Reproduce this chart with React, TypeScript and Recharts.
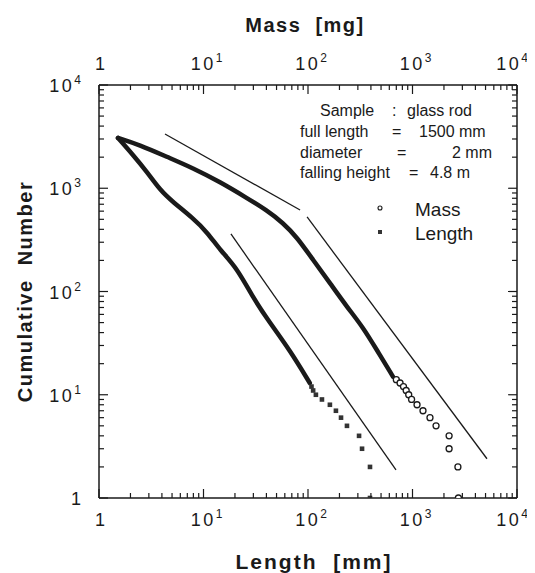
import React from 'react';
import { ScatterChart, Scatter, XAxis, YAxis, ReferenceLine } from 'recharts';

const FONT = '"Liberation Sans", Arial, Helvetica, sans-serif';
const INK = '#1a1a1a';

// axis ticks (log decades, labelled by exponent)
const decades = [1, 10, 100, 1000, 10000];
const decadeExponents = ['', '1', '2', '3', '4'];
const minorSteps = [2, 3, 4, 5, 6, 7, 8, 9];

// Mass [mg] vs cumulative number: the dense part reads as a thick curve
const massCurve = [
  [1.52, 3070], [2.47, 2620], [4.47, 2010], [7.9, 1570], [14.4, 1150],
  [26, 805], [40, 615], [58, 460], [78, 337], [112, 202],
  [162, 121], [236, 71], [336, 45], [457, 27], [650, 15],
];
const massTail = [
  [700, 14], [760, 13], [820, 12], [870, 11], [920, 10], [980, 9],
  [1105, 8], [1260, 7], [1470, 6], [1680, 5], [2240, 4], [2240, 3],
  [2720, 2], [2750, 1],
];

// Length [mm] vs cumulative number
const lengthCurve = [
  [1.52, 3070], [2.12, 2100], [2.88, 1440], [3.84, 960], [5.1, 735],
  [7.9, 515], [10.8, 377], [14.4, 252], [20.9, 169], [29.8, 87],
  [43, 50], [67, 27], [104, 13],
];
const lengthTail = [
  [108, 12], [112, 11], [119, 10], [136, 9], [162, 8], [185, 7],
  [207, 6], [236, 5], [308, 4], [329, 3], [392, 2], [392, 1],
];

// guide lines (power-law slopes)
const massGuideLow = [[4.28, 3350], [84, 615]];
const massGuideHigh = [[98, 527], [5160, 2.4]];
const lengthGuide = [[18.3, 361], [695, 1.87]];

const sampleNotes = [
  { parts: [['Sample', 312], [':', 384], ['glass rod', 399]], y: 108 },
  { parts: [['full length', 292], ['=', 384], ['1500 mm', 411]], y: 129 },
  { parts: [['diameter', 292], ['=', 389], ['2 mm', 444]], y: 150 },
  { parts: [['falling height', 292], ['=', 401], ['4.8 m', 422]], y: 170 },
];

const toPoints = (rows: number[][]) => rows.map(([x, y]) => ({ x, y }));

const ticks = decades.flatMap((d, i) =>
  i < decades.length - 1 ? [d, ...minorSteps.map((m) => m * d)] : [d]
);

type Side = 'top' | 'bottom' | 'left' | 'right';

function makeTick(side: Side, showLabel: boolean) {
  return (props: any) => {
    const { x, y, payload } = props;
    const idx = decades.indexOf(payload.value);
    const major = idx >= 0;
    const len = major ? 9 : 5;
    let x2 = x;
    let y2 = y;
    if (side === 'bottom') y2 = y - len;
    if (side === 'top') y2 = y + len;
    if (side === 'left') x2 = x + len;
    if (side === 'right') x2 = x - len;

    let label = null;
    if (showLabel && major) {
      const exp = decadeExponents[idx];
      const last = idx === decades.length - 1;
      let tx = x + (exp ? (last ? -5 : 3) : 1);
      let ty = y;
      let anchor: 'middle' | 'end' = 'middle';
      if (side === 'bottom') ty = y + 28;
      if (side === 'top') ty = y - 15;
      if (side === 'left') {
        tx = x - 18;
        ty = y + 7;
        anchor = 'end';
      }
      label = (
        <text x={tx} y={ty} textAnchor={anchor} fontSize={18} fontFamily={FONT} fill={INK}>
          {exp ? (
            <>
              <tspan letterSpacing={2.5}>10</tspan>
              <tspan fontSize={12} dy={-8}>{exp}</tspan>
            </>
          ) : (
            '1'
          )}
        </text>
      );
    }
    return (
      <g>
        <line x1={x} y1={y} x2={x2} y2={y2} stroke={INK} strokeWidth={1.2} />
        {label}
      </g>
    );
  };
}

const titleStyle = {
  fontFamily: FONT,
  fontWeight: 700,
  fontSize: 20,
  letterSpacing: 1.5,
  fill: INK,
  whiteSpace: 'pre' as const,
};

const axisLine = { stroke: INK, strokeWidth: 1.5 };

const emptyShape = () => <g />;
const circleShape = (p: any) => (
  <circle cx={p.cx} cy={p.cy} r={3} fill="#fff" stroke={INK} strokeWidth={1.3} />
);
const squareShape = (p: any) => (
  <rect x={p.cx - 2.3} y={p.cy - 2.3} width={4.6} height={4.6} fill="#333" />
);

const curveLine = {
  stroke: INK,
  strokeWidth: 4.5,
  strokeLinejoin: 'round' as const,
  strokeLinecap: 'round' as const,
};

export default function App() {
  return (
    <div style={{ position: 'relative', width: 527, height: 565 }}>
      <ScatterChart
        width={527}
        height={565}
        margin={{ top: 0, right: 0, bottom: 0, left: 0 }}
        style={{ overflow: 'visible' }}
      >
        <XAxis
          xAxisId="length"
          orientation="bottom"
          type="number"
          dataKey="x"
          scale="log"
          domain={[1, 10000]}
          allowDataOverflow
          ticks={ticks}
          interval={0}
          height={75}
          tickSize={0}
          tickMargin={0}
          tickLine={false}
          axisLine={axisLine}
          tick={makeTick('bottom', true)}
          label={(p: any) => (
            <text
              x={p.viewBox.x + p.viewBox.width / 2 + 6}
              y={p.viewBox.y + 71}
              textAnchor="middle"
              style={{ ...titleStyle, fontSize: 21, letterSpacing: 2 }}
            >
              {'Length  [mm]'}
            </text>
          )}
        />
        <XAxis
          xAxisId="mass"
          orientation="top"
          type="number"
          dataKey="x"
          scale="log"
          domain={[1, 10000]}
          allowDataOverflow
          ticks={ticks}
          interval={0}
          height={77}
          tickSize={0}
          tickMargin={0}
          tickLine={false}
          axisLine={axisLine}
          tick={makeTick('top', true)}
          label={(p: any) => (
            <text
              x={p.viewBox.x + p.viewBox.width / 2 - 3}
              y={p.viewBox.y + 24}
              textAnchor="middle"
              style={titleStyle}
            >
              {'Mass  [mg]'}
            </text>
          )}
        />
        <YAxis
          yAxisId="left"
          orientation="left"
          type="number"
          dataKey="y"
          scale="log"
          domain={[1, 10000]}
          allowDataOverflow
          ticks={ticks}
          interval={0}
          width={91}
          tickSize={0}
          tickMargin={0}
          tickLine={false}
          axisLine={axisLine}
          tick={makeTick('left', true)}
          label={(p: any) => {
            const cx = p.viewBox.x + 17;
            const cy = p.viewBox.y + p.viewBox.height / 2;
            return (
              <text
                x={cx}
                y={cy}
                textAnchor="middle"
                dominantBaseline="central"
                transform={`rotate(-90, ${cx}, ${cy})`}
                style={titleStyle}
              >
                {'Cumulative  Number'}
              </text>
            );
          }}
        />
        <YAxis
          yAxisId="right"
          orientation="right"
          type="number"
          dataKey="y"
          scale="log"
          domain={[1, 10000]}
          allowDataOverflow
          ticks={ticks}
          interval={0}
          width={18}
          tickSize={0}
          tickMargin={0}
          tickLine={false}
          axisLine={axisLine}
          tick={makeTick('right', false)}
        />

        <ReferenceLine
          xAxisId="mass"
          yAxisId="left"
          segment={toPoints(massGuideLow)}
          stroke={INK}
          strokeWidth={1.3}
        />
        <ReferenceLine
          xAxisId="mass"
          yAxisId="left"
          segment={toPoints(massGuideHigh)}
          stroke={INK}
          strokeWidth={1.3}
        />
        <ReferenceLine
          xAxisId="length"
          yAxisId="left"
          segment={toPoints(lengthGuide)}
          stroke={INK}
          strokeWidth={1.3}
        />

        <Scatter
          name="Mass curve"
          data={toPoints(massCurve)}
          xAxisId="mass"
          yAxisId="left"
          line={curveLine}
          lineJointType="basis"
          shape={emptyShape}
          isAnimationActive={false}
        />
        <Scatter
          name="Mass"
          data={toPoints(massTail)}
          xAxisId="mass"
          yAxisId="left"
          shape={circleShape}
          isAnimationActive={false}
        />
        <Scatter
          name="Length curve"
          data={toPoints(lengthCurve)}
          xAxisId="length"
          yAxisId="left"
          line={curveLine}
          lineJointType="basis"
          shape={emptyShape}
          isAnimationActive={false}
        />
        <Scatter
          name="Length"
          data={toPoints(lengthTail)}
          xAxisId="length"
          yAxisId="left"
          shape={squareShape}
          isAnimationActive={false}
        />
      </ScatterChart>

      <svg
        width={527}
        height={565}
        style={{ position: 'absolute', left: 0, top: 0, pointerEvents: 'none' }}
      >
        {sampleNotes.map((line, i) =>
          line.parts.map(([t, x], j) => (
            <text
              key={`${i}-${j}`}
              x={x as number}
              y={line.y}
              fontFamily={FONT}
              fontSize={16}
              fill={INK}
            >
              {t}
            </text>
          ))
        )}
        <circle cx={372} cy={200} r={2} fill="#fff" stroke={INK} strokeWidth={1.1} />
        <text x={407} y={208} fontFamily={FONT} fontSize={19} fill={INK}>
          Mass
        </text>
        <rect x={370} y={222} width={4} height={4} fill="#333" />
        <text x={407} y={232} fontFamily={FONT} fontSize={19} fill={INK}>
          Length
        </text>
      </svg>
    </div>
  );
}
